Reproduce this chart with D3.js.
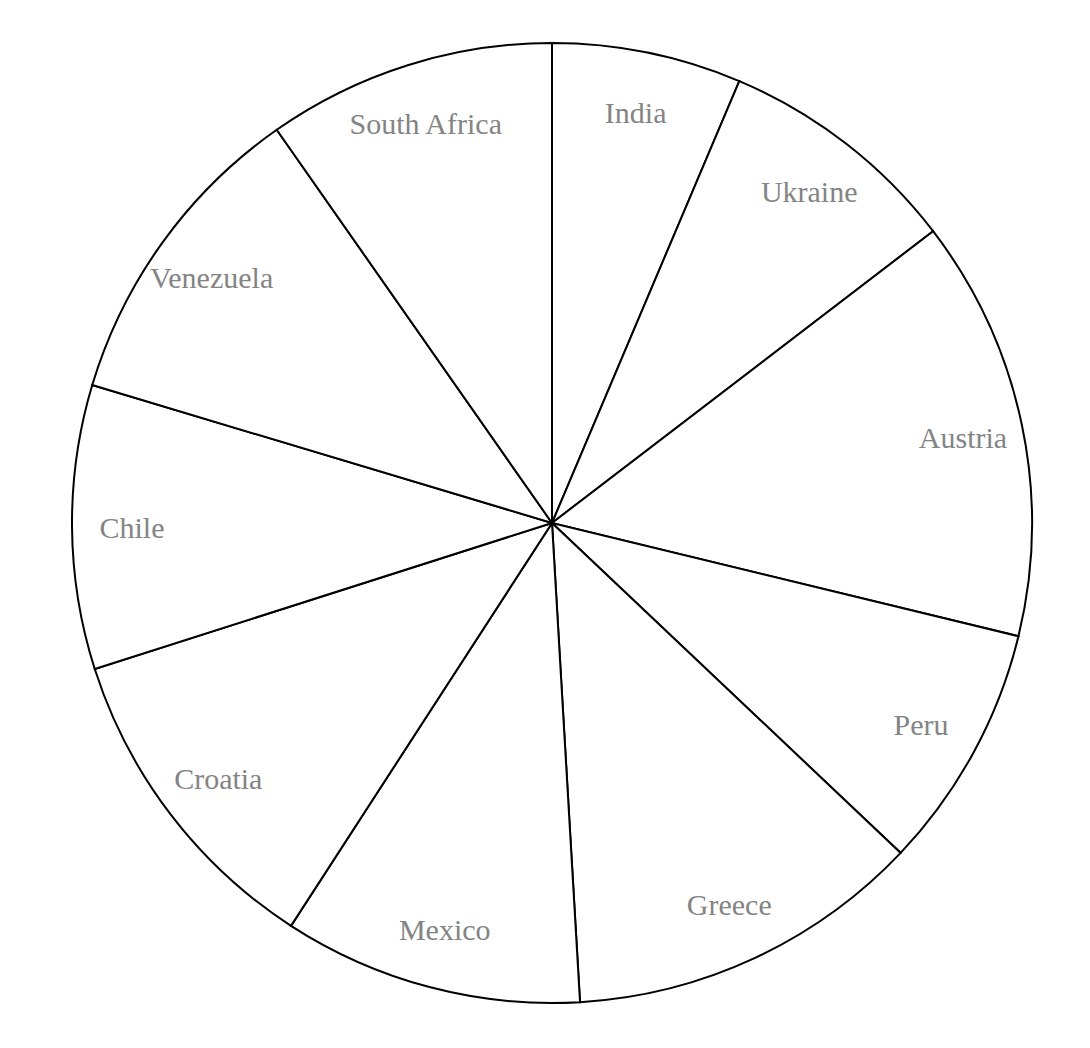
<!DOCTYPE html>
<html><head><meta charset="utf-8">
<script src="https://cdn.jsdelivr.net/npm/d3@7"></script>
<style>body{margin:0;background:#fff}</style>
</head><body>
<svg id="chart" width="1090" height="1048"></svg>
<script>
const categories = ["India","Ukraine","Austria","Peru","Greece","Mexico","Croatia","Chile","Venezuela","South Africa"];
const values = [6.38, 8.22, 14.19, 8.27, 12.01, 10.08, 10.93, 9.56, 10.64, 9.72];

const svg = d3.select("#chart");
const cx = 552, cy = 523, R = 480, labelR = 420;
const g = svg.append("g").attr("transform", `translate(${cx},${cy})`);
const data = categories.map((c,i)=>({name:c, value:values[i]}));
const pie = d3.pie().sort(null).value(d=>d.value);
const arc = d3.arc().innerRadius(0).outerRadius(R);
const labelArc = d3.arc().innerRadius(labelR).outerRadius(labelR);
const arcs = pie(data);
g.selectAll("path").data(arcs).join("path")
  .attr("d", arc).attr("fill","#fff").attr("stroke","#000").attr("stroke-width",2);
g.selectAll("text").data(arcs).join("text")
  .attr("transform", d=>`translate(${labelArc.centroid(d)})`)
  .attr("dy","0.38em").attr("text-anchor","middle")
  .attr("font-family","'Liberation Serif', 'Times New Roman', serif")
  .attr("font-size",30).attr("fill","#848484")
  .text(d=>d.data.name);
</script>
</body></html>
